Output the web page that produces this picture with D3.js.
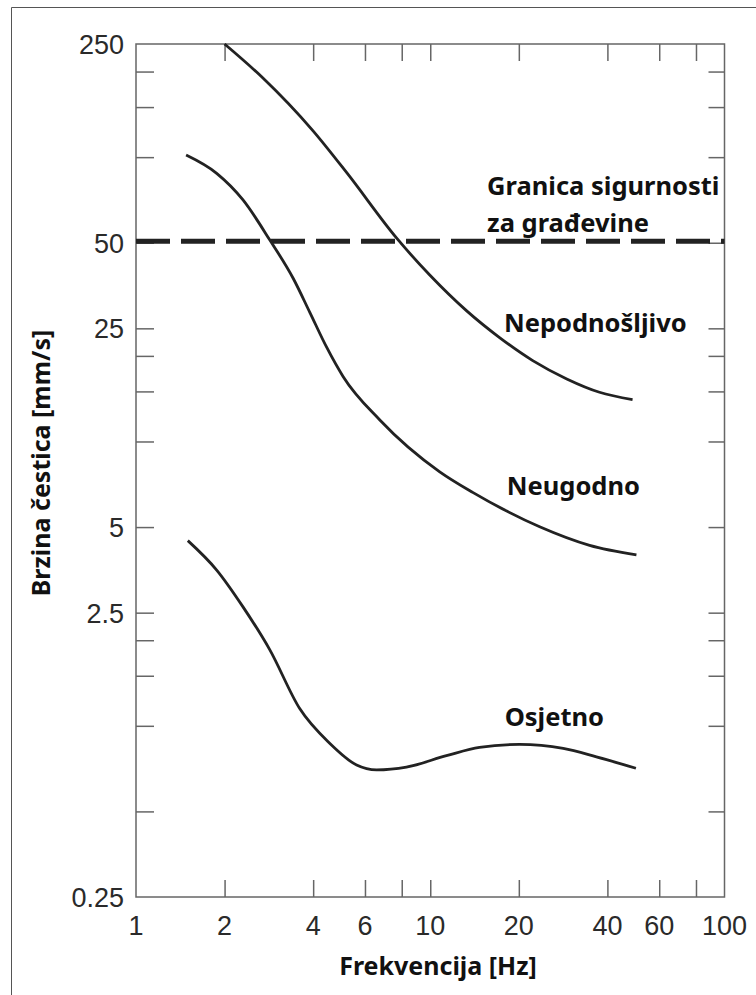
<!DOCTYPE html>
<html><head><meta charset="utf-8">
<script src="https://cdn.jsdelivr.net/npm/d3@7"></script>
<style>body{margin:0;background:#fff}</style></head>
<body><svg id="c" width="756" height="995"></svg>
<script>
// ---- data ----
const xTickLabels = [1, 2, 4, 6, 10, 20, 40, 60, 100];
const xMinorTicks = [2, 4, 6, 8, 10, 20, 40, 60, 80];
const yTickLabels = [250, 50, 25, 5, 2.5, 0.25];
const yMinorTicks = [200, 150, 100, 50, 25, 20, 15, 10, 5, 2.5, 2, 1.5, 1, 0.5];
const safetyLimit = 50;

const nepodnosljivo = [[2,250],[2.7,189.8],[3.99,124],[5.21,88],[7.69,51.9],[9.96,38.5],[13.3,28.8],[17.2,23.2],[22.3,19.25],[29.1,16.6],[37.6,14.9],[48.7,14.04]];
const neugodno = [[1.48,101.7],[1.88,87.7],[2.31,70.7],[2.85,51.1],[3.42,37.5],[3.9,28.4],[4.44,21.5],[5.06,16.9],[6.74,11.9],[10.77,7.82],[13.94,6.62],[18.19,5.69],[23.54,5.01],[34.8,4.31],[50.2,3.99]];
const osjetno = [[1.5,4.48],[1.88,3.53],[2.31,2.62],[2.85,1.85],[3.6,1.15],[4.56,0.867],[5.62,0.728],[6.57,0.70],[8.3,0.716],[11.35,0.785],[14.7,0.84],[20.1,0.86],[28.3,0.833],[36.7,0.778],[50,0.709]];

const labels = [
  {lines:["Granica sigurnosti","za građevine"], x:15.6, y:73.6},
  {lines:["Nepodnošljivo"], x:17.8, y:24.3},
  {lines:["Neugodno"], x:18.2, y:6.48},
  {lines:["Osjetno"], x:17.9, y:1.0}
];

// ---- layout ----
const svg = d3.select("#c");
const L = 136, R = 724.5, T = 44, B = 897;
const x = d3.scaleLog().domain([1, 100]).range([L, R]);
const y = d3.scaleLog().domain([0.25, 250]).range([B, T]);
const axisColor = "#666";
const ink = "#222";

// outer frame (left & top)
svg.append("path").attr("d", "M11.5,995V7.5H756").attr("fill","none").attr("stroke","#555").attr("stroke-width",1);

// plot frame
svg.append("rect").attr("x",L).attr("y",T).attr("width",R-L).attr("height",B-T)
  .attr("fill","none").attr("stroke",axisColor).attr("stroke-width",1.5);

const tl = 17;
const gB = svg.append("g").attr("transform",`translate(0,${B})`)
  .call(d3.axisTop(x).tickValues(xMinorTicks).tickSize(tl).tickFormat(""));
const gT = svg.append("g").attr("transform",`translate(0,${T})`)
  .call(d3.axisBottom(x).tickValues(xMinorTicks).tickSize(tl).tickFormat(""));
const gL = svg.append("g").attr("transform",`translate(${L},0)`)
  .call(d3.axisRight(y).tickValues(yMinorTicks).tickSize(18).tickFormat(""));
const gR = svg.append("g").attr("transform",`translate(${R},0)`)
  .call(d3.axisLeft(y).tickValues(yMinorTicks).tickSize(16).tickFormat(""));
[gB,gT,gL,gR].forEach(g=>{
  g.select(".domain").remove();
  g.selectAll("line").attr("stroke",axisColor).attr("stroke-width",1.5);
});

// tick labels
svg.append("g").selectAll("text").data(xTickLabels).join("text")
  .attr("x", d=>x(d)).attr("y", 935)
  .attr("text-anchor","middle")
  .attr("font-family","'Liberation Sans', Arial, sans-serif").attr("font-size",27)
  .attr("fill","#2a2a2a").text(d=>d);
svg.append("g").selectAll("text").data(yTickLabels).join("text")
  .attr("x", 124).attr("y", d=>y(d)+10)
  .attr("text-anchor","end")
  .attr("font-family","'Liberation Sans', Arial, sans-serif").attr("font-size",27)
  .attr("fill","#2a2a2a").text(d=>d);

// dashed safety line
svg.append("line").attr("x1",L).attr("x2",R).attr("y1",y(safetyLimit)-1.5).attr("y2",y(safetyLimit)-1.5)
  .attr("stroke",ink).attr("stroke-width",5).attr("stroke-dasharray","34,11");

// curves
const line = d3.line().x(d=>x(d[0])).y(d=>y(d[1])).curve(d3.curveMonotoneX);
[nepodnosljivo, neugodno, osjetno].forEach(s=>{
  svg.append("path").attr("d", line(s)).attr("fill","none")
    .attr("stroke",ink).attr("stroke-width",2.8).attr("stroke-linecap","butt");
});

// curve labels
labels.forEach(lb=>{
  const t = svg.append("text").attr("font-family","'Noto Sans', sans-serif").attr("font-weight","bold")
    .attr("font-size",25.5).attr("fill","#111");
  lb.lines.forEach((s,i)=>{
    t.append("tspan").attr("x", x(lb.x)).attr("y", y(lb.y) + i*37).text(s);
  });
});

// axis titles
svg.append("text").attr("x", 438).attr("y", 975).attr("text-anchor","middle")
  .attr("font-family","'Noto Sans', sans-serif").attr("font-weight","bold").attr("font-size",25)
  .attr("fill","#111").text("Frekvencija [Hz]");
svg.append("text").attr("transform","translate(50,463) rotate(-90)").attr("text-anchor","middle")
  .attr("font-family","'Noto Sans', sans-serif").attr("font-weight","bold").attr("font-size",25)
  .attr("fill","#111").text("Brzina čestica [mm/s]");
</script>
</body></html>
